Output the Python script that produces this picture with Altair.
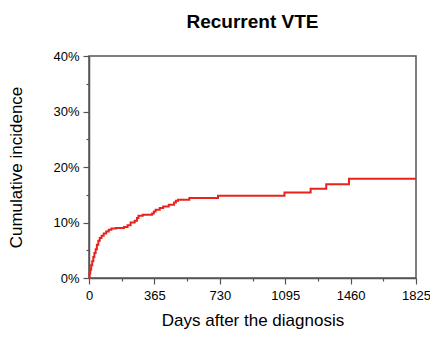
import altair as alt
import pandas as pd

days = [0, 3, 7, 12, 18, 24, 30, 37, 44, 52, 60, 70, 82, 96, 110, 125, 150, 195, 215,
        232, 255, 268, 276, 300, 352, 362, 372, 395, 414, 445, 475, 485, 497, 560, 720,
        1091, 1237, 1324, 1451, 1825]
incidence = [0.0, 0.8, 1.5, 2.3, 3.0, 3.8, 4.5, 5.2, 6.0, 6.7, 7.2, 7.6, 8.0, 8.4, 8.7,
             8.9, 9.0, 9.2, 9.5, 10.0, 10.3, 10.8, 11.2, 11.4, 11.6, 12.0, 12.3, 12.6,
             12.9, 13.2, 13.6, 13.9, 14.1, 14.4, 14.8, 15.4, 16.1, 16.9, 17.9, 17.9]

x_ticks = [0, 182.5, 365, 547.5, 730, 912.5, 1095, 1277.5, 1460, 1642.5, 1825]
y_ticks = [0, 0.05, 0.10, 0.15, 0.20, 0.25, 0.30, 0.35, 0.40]

df = pd.DataFrame({"day": days, "ci": [v / 100 for v in incidence]})

axis_color = "#555555"
font = "Liberation Sans"

chart = alt.Chart(df).mark_line(
    interpolate="step-after", color="#e8231d", strokeWidth=2
).encode(
    x=alt.X("day:Q",
            scale=alt.Scale(domain=[0, 1825], nice=False, zero=False),
            axis=alt.Axis(
                values=x_ticks,
                title="Days after the diagnosis",
                labelExpr="datum.value % 365 == 0 ? datum.value : ''",
                labelOverlap=False,
                labelFlush=False,
                tickSize={"condition": {"test": "datum.value % 365 == 0", "value": 6}, "value": 3},
                labelPadding=5,
                titlePadding=10,
            )),
    y=alt.Y("ci:Q",
            scale=alt.Scale(domain=[0, 0.4], nice=False),
            axis=alt.Axis(
                values=y_ticks,
                title="Cumulative incidence",
                labelExpr="round(datum.value*100) % 10 == 0 ? format(datum.value, '.0%') : ''",
                labelOverlap=False,
                labelFlush=False,
                tickSize={"condition": {"test": "round(datum.value*100) % 10 == 0", "value": 6}, "value": 3},
                labelPadding=4,
                titlePadding=27,
            )),
).properties(
    width=327,
    height=222,
    title=alt.TitleParams("Recurrent VTE", fontSize=19, fontWeight="bold", font=font,
                          anchor="middle", offset=18, color="black"),
    autosize=alt.AutoSizeParams(type="none"),
    padding={"left": 81, "top": 48, "right": 14, "bottom": 54},
).configure_view(
    stroke=axis_color, strokeWidth=1.5
).configure_axis(
    grid=False,
    domainColor=axis_color,
    domainWidth=1.5,
    tickColor=axis_color,
    tickWidth=1.2,
    labelFont=font,
    labelFontSize=13,
    labelColor="black",
    titleFont=font,
    titleFontSize=17,
    titleFontWeight="normal",
    titleColor="black",
)

chart.save("out.html", embed_options={"renderer": "svg", "actions": False})
